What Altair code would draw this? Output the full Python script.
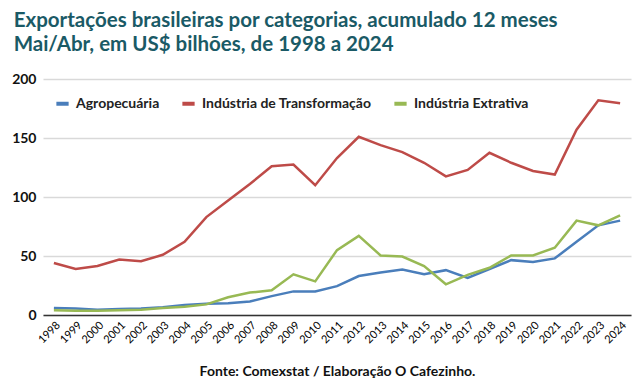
import altair as alt
import pandas as pd

years = [str(y) for y in range(1998, 2025)]
agro = [6, 5.5, 4.5, 5, 5.5, 6.5, 8.5, 9.5, 10, 11.5, 16, 20, 20, 24.5, 33, 36, 38.5, 34.5, 38, 31.5, 39, 46.5, 45, 48, 62, 76, 80]
transf = [44, 39, 41.5, 47, 45.5, 51, 62, 83, 97, 111, 126, 127.5, 110, 133, 151, 144, 138, 129, 117.5, 123, 137.5, 129, 122, 119, 157, 182, 179.5]
extr = [4, 3.5, 3.5, 4, 4.5, 6, 7, 9, 15, 19, 21, 34.5, 28.5, 55, 67, 50.5, 49.5, 41.5, 26, 34, 40, 50.5, 50.5, 57, 80, 76, 84.5]

series_names = ["Agropecuária", "Indústria de Transformação", "Indústria Extrativa"]
colors = ["#4a7ebb", "#be4b48", "#98b954"]

rows = []
for name, vals in zip(series_names, [agro, transf, extr]):
    for y, v in zip(years, vals):
        rows.append({"Ano": y, "Valor": v, "Série": name})
df = pd.DataFrame(rows)

FONT = "Lato"

chart = alt.Chart(df).mark_line(strokeWidth=2.5).encode(
    x=alt.X("Ano:O", sort=years,
            scale=alt.Scale(padding=0.5),
            axis=alt.Axis(labelAngle=-45, labelFontSize=11, labelColor="#000000",
                          labelFont=FONT, labelAlign="right", labelBaseline="top",
                          ticks=False, domainColor="#333333", domainWidth=1.5,
                          grid=False, labelPadding=4,
                          title="Fonte: Comexstat / Elaboração O Cafezinho.",
                          titleFont=FONT, titleFontSize=14, titleFontWeight="bold",
                          titleColor="#111111", titlePadding=20)),
    y=alt.Y("Valor:Q", scale=alt.Scale(domain=[0, 200]),
            axis=alt.Axis(values=[0, 50, 100, 150, 200], labelFontSize=14,
                          labelFont=FONT, labelFontWeight="bold", labelColor="#111111",
                          ticks=False, domain=False, gridColor="#d9d9d9", gridWidth=1.5,
                          labelPadding=7, title=None)),
    color=alt.Color("Série:N", sort=series_names,
                    scale=alt.Scale(domain=series_names, range=colors),
                    legend=alt.Legend(title=None, orient="none", legendX=11, legendY=16,
                                      direction="horizontal", symbolType="stroke",
                                      symbolStrokeWidth=4, symbolSize=150,
                                      labelFont=FONT, labelFontSize=14,
                                      labelFontWeight="bold", labelColor="#222222",
                                      labelLimit=400,
                                      columnPadding=14, labelOffset=5)),
).properties(
    width=588,
    height=236,
    padding={"left": 35, "top": 71, "right": 4, "bottom": 66},
    autosize=alt.AutoSizeParams(type="none"),
    title=alt.TitleParams(
        text=["Exportações brasileiras por categorias, acumulado 12 meses",
              "Mai/Abr, em US$ bilhões, de 1998 a 2024"],
        anchor="start", frame="bounds", font=FONT, fontSize=20.5, fontWeight="bold",
        color="#1a5a66", dx=2, dy=-13, lineHeight=24, baseline="top"),
).configure_view(stroke=None)

chart.save("out.html", embed_options={"renderer": "svg", "actions": False})
